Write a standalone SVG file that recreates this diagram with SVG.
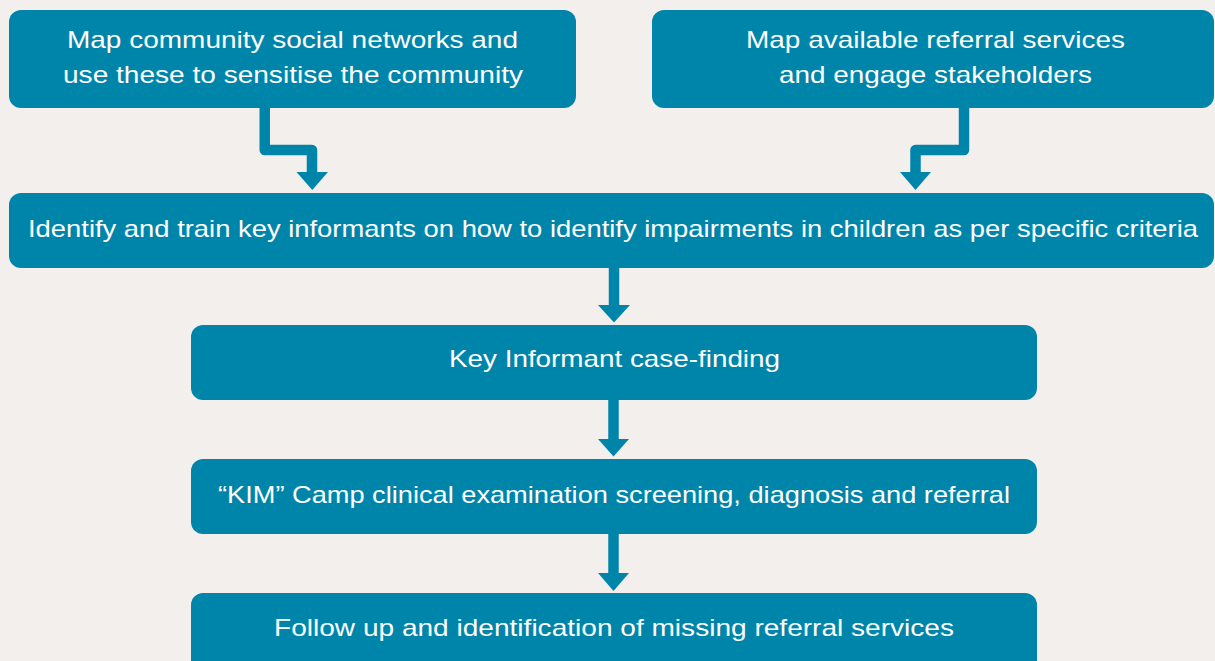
<svg xmlns="http://www.w3.org/2000/svg" width="1215" height="661" viewBox="0 0 1215 661">
<style>
.box{fill:#0085AA}
.t{fill:#ffffff;font-family:"Liberation Sans",Arial,sans-serif;font-size:24px;text-anchor:middle}
.line{fill:none;stroke:#0085AA;stroke-width:10.5;stroke-linejoin:round}
.head{fill:#0085AA}
</style>
<rect x="0" y="0" width="1215" height="661" fill="#F3EFEC"/>
<g id="connectors">
<polyline class="line" points="264.75,107 264.75,150 312,150 312,173"/>
<polygon class="head" points="296.5,172 328,172 312.25,190"/>
<polyline class="line" points="964,107 964,150 915.5,150 915.5,173"/>
<polygon class="head" points="900,172 931,172 915.5,190"/>
<line class="line" x1="614" y1="267" x2="614" y2="306"/>
<polygon class="head" points="598,305 630,305 614,322.5"/>
<line class="line" x1="613.5" y1="399" x2="613.5" y2="440"/>
<polygon class="head" points="598,439 629,439 613.5,456.5"/>
<line class="line" x1="613.5" y1="533" x2="613.5" y2="574"/>
<polygon class="head" points="598,573 629,573 613.5,591"/>
</g>
<g id="n1">
<rect class="box" x="9" y="10" width="567" height="98" rx="12"/>
<text class="t" x="292.5" y="47.7" textLength="451" lengthAdjust="spacingAndGlyphs">Map community social networks and</text>
<text class="t" x="293" y="83.3" textLength="460" lengthAdjust="spacingAndGlyphs">use these to sensitise the community</text>
</g>
<g id="n2">
<rect class="box" x="652" y="10" width="562" height="98" rx="12"/>
<text class="t" x="935.5" y="47.7" textLength="379" lengthAdjust="spacingAndGlyphs">Map available referral services</text>
<text class="t" x="935.5" y="83.3" textLength="313" lengthAdjust="spacingAndGlyphs">and engage stakeholders</text>
</g>
<g id="n3">
<rect class="box" x="9" y="193" width="1205" height="75" rx="12"/>
<text class="t" x="613" y="237.3" textLength="1170" lengthAdjust="spacingAndGlyphs">Identify and train key informants on how to identify impairments in children as per specific criteria</text>
</g>
<g id="n4">
<rect class="box" x="191" y="325" width="846" height="75" rx="12"/>
<text class="t" x="614.5" y="366.7" textLength="331" lengthAdjust="spacingAndGlyphs">Key Informant case-finding</text>
</g>
<g id="n5">
<rect class="box" x="191" y="459" width="846" height="75" rx="12"/>
<text class="t" x="614" y="503" textLength="792" lengthAdjust="spacingAndGlyphs">“KIM” Camp clinical examination screening, diagnosis and referral</text>
</g>
<g id="n6">
<rect class="box" x="191" y="593" width="846" height="90" rx="12"/>
<text class="t" x="614" y="636" textLength="680" lengthAdjust="spacingAndGlyphs">Follow up and identification of missing referral services</text>
</g>
</svg>
